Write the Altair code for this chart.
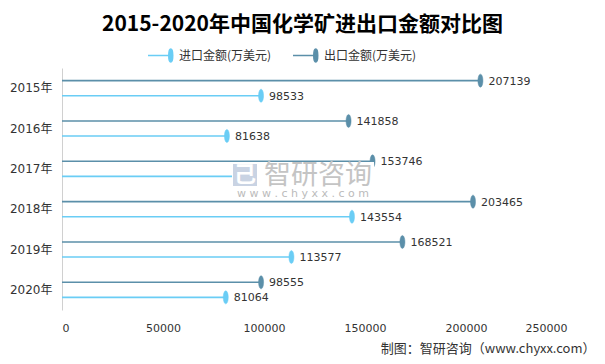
import altair as alt
import pandas as pd

years = ["2015年", "2016年", "2017年", "2018年", "2019年", "2020年"]
import_vals = [98533, 81638, 96000, 143554, 113577, 81064]
export_vals = [207139, 141858, 153746, 203465, 168521, 98555]
series = ["进口金额(万美元)", "出口金额(万美元)"]
colors = ["#6ACDF5", "#5B8FA9"]
x_ticks = [0, 50000, 100000, 150000, 200000, 250000]
title_text = "2015-2020年中国化学矿进出口金额对比图"
source_text = "制图：智研咨询（www.chyxx.com）"

rows = []
for yr, iv, ev in zip(years, import_vals, export_vals):
    rows.append({"year": yr, "series": series[0], "value": iv, "label": str(iv)})
    rows.append({"year": yr, "series": series[1], "value": ev, "label": str(ev)})
df = pd.DataFrame(rows)

CJK = "Noto Sans CJK SC"
NUM = "DejaVu Sans, Noto Sans CJK SC"

x_scale = alt.Scale(domain=[0, 250000], nice=False)
y_scale = alt.Scale(domain=years, paddingInner=0, paddingOuter=0)
yoff_scale = alt.Scale(domain=[series[1], series[0]], paddingInner=0, paddingOuter=0.34)
col_scale = alt.Scale(domain=series, range=colors)

legend_path = "M-1,0L0.7,0M0.82,-0.52A0.16,0.52,0,1,1,0.82,0.52A0.16,0.52,0,1,1,0.82,-0.52Z"
legend = alt.Legend(
    title=None, orient="none", legendX=85, legendY=-26, direction="horizontal",
    symbolType=legend_path, symbolSize=625, symbolStrokeWidth=1.5,
    labelFont=CJK, labelFontSize=12, labelColor="#333333", labelOffset=5,
    columnPadding=18,
)

x_enc = alt.X(
    "value:Q", scale=x_scale,
    axis=alt.Axis(
        values=x_ticks, format="d", grid=False, domain=False, ticks=False,
        labelPadding=12, labelFont=NUM, labelFontSize=11, labelColor="#333333",
        title=source_text, titleFont=CJK, titleFontSize=13, titleFontWeight="normal",
        titleColor="#333333", titleX=533, titleY=38, titleAlign="right",
        titleBaseline="middle", titleAnchor="end",
    ),
)
y_enc = alt.Y(
    "year:N", scale=y_scale, sort=years,
    axis=alt.Axis(
        title=None, ticks=False, grid=False, domainColor="#D0D0D0", domainWidth=1,
        labelFont=NUM, labelFontSize=12, labelColor="#333333", labelPadding=10,
    ),
)
yoff_enc = alt.YOffset("series:N", scale=yoff_scale)

base = alt.Chart(df)

rules = base.mark_rule(strokeWidth=1.6).encode(
    x=x_enc, x2=alt.X2(datum=0), y=y_enc, yOffset=yoff_enc,
    stroke=alt.Stroke("series:N", scale=col_scale, legend=legend),
)

ellipse = "M0,-1A0.385,1,0,1,1,0,1A0.385,1,0,1,1,0,-1Z"
points = base.mark_point(filled=True, shape=ellipse, size=169, opacity=1, strokeWidth=0.5).encode(
    x=x_enc, y=y_enc, yOffset=yoff_enc,
    fill=alt.Fill("series:N", scale=col_scale, legend=legend),
    stroke=alt.Stroke("series:N", scale=col_scale, legend=legend),
)

labels = base.mark_text(align="left", baseline="middle", dx=8, dy=1, font=NUM,
                        fontSize=11, color="#333333").encode(
    x=x_enc, y=y_enc, yOffset=yoff_enc, text="label:N",
)

wm_df = pd.DataFrame({"t": ["智研咨询"], "u": ["w w w . c h y x x . c o m"]})
wm_rect = alt.Chart(wm_df).mark_rect(fill="white").encode(
    x=alt.value(170), x2=alt.value(312), y=alt.value(94), y2=alt.value(131)
)
wm_logo1 = alt.Chart(wm_df).mark_rect(fill="#C9D3E3").encode(
    x=alt.value(171), x2=alt.value(195), y=alt.value(96), y2=alt.value(118)
)
wm_logo2 = alt.Chart(wm_df).mark_text(font=CJK, fontSize=22, color="white", fontWeight="bold").encode(
    x=alt.value(183), y=alt.value(107), text=alt.value("己")
)
wm_text = alt.Chart(wm_df).mark_text(font=CJK, fontSize=27, color="#C4C4C4").encode(
    x=alt.value(256), y=alt.value(108), text="t:N"
)
wm_url = alt.Chart(wm_df).mark_text(font=NUM, fontSize=11, color="#BBBBBB").encode(
    x=alt.value(241), y=alt.value(126), text="u:N"
)

chart = alt.layer(rules, points, labels, wm_rect, wm_logo1, wm_logo2, wm_text, wm_url).properties(
    width=505, height=242,
    autosize=alt.AutoSizeParams(type="none"),
    padding={"left": 54, "top": 60, "right": 30, "bottom": 48},
    background="white",
    title=alt.TitleParams(
        title_text, anchor="middle", dx=-12, font=CJK, fontSize=21,
        fontWeight="bold", color="#000000", offset=7,
    ),
).configure_view(stroke=None)

chart.save("out.html", embed_options={"renderer": "svg", "actions": False})
